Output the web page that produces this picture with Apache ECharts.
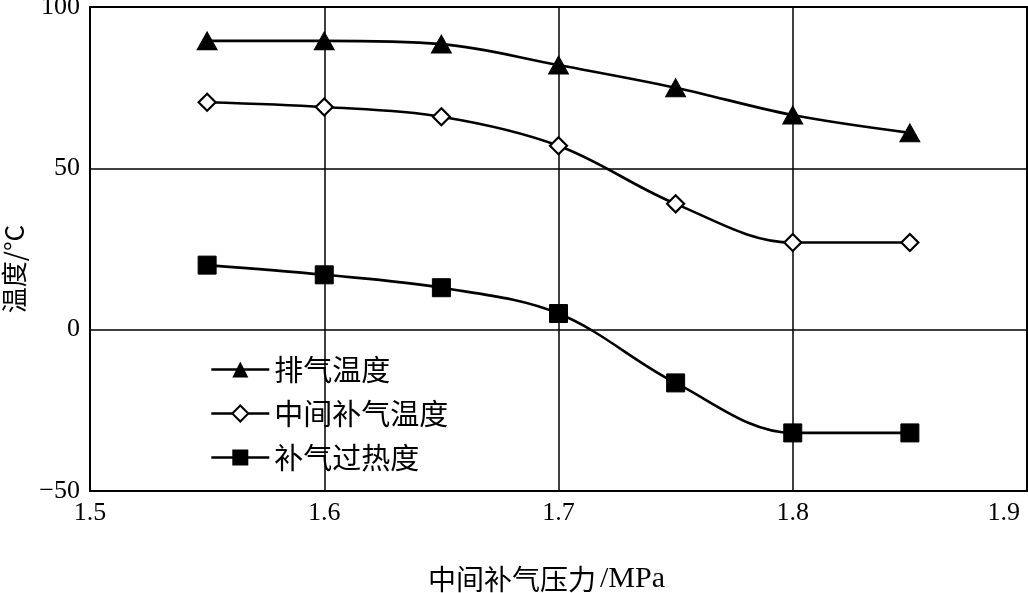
<!DOCTYPE html>
<html>
<head>
<meta charset="utf-8">
<script src="https://cdn.jsdelivr.net/npm/echarts@6/dist/echarts.min.js"></script>
<style>
html,body{margin:0;padding:0;background:#fff;}
#c{width:1028px;height:593px;}
</style>
</head>
<body>
<div id="c"></div>
<script>
const pressures = [1.55, 1.60, 1.65, 1.70, 1.75, 1.80, 1.85];
const exhaustTemp = [89.5, 89.5, 88.5, 82, 75, 66.5, 61];
const midTemp = [70.5, 69, 66, 57, 39, 27, 27];
const superheat = [20, 17, 13, 5, -16.5, -32, -32];
const seriesNames = ['排气温度', '中间补气温度', '补气过热度'];
const xTicks = [1.5, 1.6, 1.7, 1.8, 1.9];
const yTicks = [-50, 0, 50, 100];

const serif = '"Liberation Serif","DejaVu Serif",serif';
const cjk = '"Noto Sans CJK SC","Liberation Serif",serif';

function pairs(ys){ return pressures.map((x,i)=>[x, ys[i]]); }

const chart = echarts.init(document.getElementById('c'), null, {renderer:'canvas'});
chart.setOption({
  animation: false,
  backgroundColor: '#fff',
  grid: {left: 90, right: 1, top: 7, bottom: 102, outerBoundsMode: 'none', containLabel: false,
         show: true, borderColor: '#000', borderWidth: 2, backgroundColor: 'transparent'},
  xAxis: {
    type: 'value', min: xTicks[0], max: xTicks[xTicks.length-1], interval: 0.1,
    axisLine: {show: true, onZero: false, lineStyle: {color: '#000', width: 2}},
    axisTick: {show: false},
    splitLine: {show: true, lineStyle: {color: '#000', width: 1.5}},
    axisLabel: {color: '#000', fontFamily: serif, fontSize: 26, margin: 9, alignMaxLabel: 'right',
      formatter: v => Math.abs(v - xTicks[xTicks.length-1]) < 1e-9 ? '{r|' + v.toFixed(1) + '}' : v.toFixed(1),
      rich: {r: {fontFamily: serif, fontSize: 26, color: '#000', padding: [0, 7, 0, 0]}}},
    name: '{a|中间补气压力}{b|/MPa}', nameLocation: 'middle', nameGap: 73,
    nameTextStyle: {color: '#000', padding: [0, 24, 0, 0], rich: {
      a: {fontFamily: cjk, fontSize: 28, color: '#000'},
      b: {fontFamily: serif, fontSize: 30, color: '#000', padding: [0, 0, 0, 4]}}}
  },
  yAxis: {
    type: 'value', min: yTicks[0], max: yTicks[yTicks.length-1], interval: 50,
    axisLine: {show: true, onZero: false, lineStyle: {color: '#000', width: 2}},
    axisTick: {show: false},
    splitLine: {show: true, lineStyle: {color: '#000', width: 1.5}},
    axisLabel: {color: '#000', fontFamily: serif, fontSize: 26, margin: 10,
      formatter: v => v < 0 ? '\u2212' + Math.abs(v) : String(v)}
  },
  legend: {
    orient: 'vertical', left: 210, top: 355, padding: 0, itemWidth: 58, itemHeight: 20, itemGap: 15,
    lineStyle: {width: 2.6, color: '#000'},
    textStyle: {color: '#000', fontFamily: cjk, fontSize: 29, lineHeight: 29},
    data: seriesNames
  },
  graphic: [{
    type: 'text', x: 14, y: 269, rotation: Math.PI/2,
    style: {text: '温度/°C', fill: '#000', font: '26px ' + cjk, align: 'center', verticalAlign: 'middle'}
  }],
  series: [
    {name: seriesNames[0], type: 'line', smooth: 0.35, data: pairs(exhaustTemp),
     symbol: 'triangle', symbolSize: [20, 18],
     lineStyle: {color: '#000', width: 2.6}, itemStyle: {color: '#000', borderColor: '#000'}},
    {name: seriesNames[1], type: 'line', smooth: 0.35, data: pairs(midTemp),
     symbol: 'diamond', symbolSize: 17,
     lineStyle: {color: '#000', width: 2.6}, itemStyle: {color: '#fff', borderColor: '#000', borderWidth: 2.2}},
    {name: seriesNames[2], type: 'line', smooth: 0.35, data: pairs(superheat),
     symbol: 'rect', symbolSize: 18,
     lineStyle: {color: '#000', width: 2.6}, itemStyle: {color: '#000', borderColor: '#000'}}
  ]
});
</script>
</body>
</html>
